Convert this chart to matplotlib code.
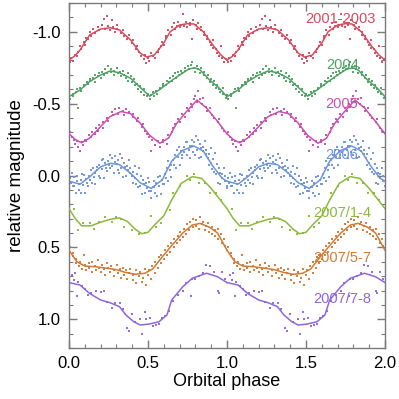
import matplotlib
matplotlib.use("Agg")
import matplotlib.pyplot as plt
from matplotlib.ticker import MultipleLocator, FormatStrFormatter
import numpy as np

plt.rcParams['font.family'] = ['Liberation Sans', 'DejaVu Sans']

labels = ["2001-2003", "2004", "2005", "2006", "2007/1-4", "2007/5-7", "2007/7-8"]
colors = ["#d64a5e", "#4fa163", "#c84fb0", "#6e95db", "#8cb83c", "#d27a34", "#8f66e0"]

# model curves (phase 0-1, repeated for 1-2)
red_curve_ph = [0, 0.035, 0.07, 0.13, 0.2, 0.26, 0.32, 0.39, 0.45, 0.49, 0.54, 0.6, 0.64, 0.7, 0.75, 0.79, 0.85, 0.91, 0.96, 1.0]
red_curve = [-0.803, -0.83, -0.873, -0.977, -1.019, -1.028, -1.012, -0.943, -0.852, -0.824, -0.838, -0.922, -1.0, -1.047, -1.056, -1.054, -1.0, -0.908, -0.84, -0.803]
grn_curve_ph = [0, 0.07, 0.13, 0.2, 0.26, 0.32, 0.39, 0.45, 0.51, 0.57, 0.64, 0.7, 0.76, 0.8, 0.83, 0.89, 0.95, 1.0]
grn_curve = [-0.548, -0.595, -0.653, -0.699, -0.727, -0.715, -0.676, -0.614, -0.552, -0.595, -0.653, -0.699, -0.742, -0.748, -0.734, -0.664, -0.609, -0.548]
mag_curve_ph = [0, 0.04, 0.08, 0.13, 0.2, 0.26, 0.33, 0.39, 0.45, 0.51, 0.575, 0.63, 0.68, 0.74, 0.81, 0.87, 0.93, 1.0]
mag_curve = [-0.29, -0.25, -0.228, -0.26, -0.34, -0.41, -0.445, -0.43, -0.365, -0.28, -0.224, -0.26, -0.36, -0.44, -0.525, -0.47, -0.39, -0.29]
blu_curve_ph = [0, 0.07, 0.13, 0.2, 0.26, 0.32, 0.39, 0.45, 0.52, 0.59, 0.65, 0.72, 0.79, 0.85, 0.91, 0.97, 1.0]
blu_curve = [0.04, 0.06, 0.01, -0.06, -0.085, -0.075, -0.015, 0.05, 0.09, 0.03, -0.1, -0.175, -0.205, -0.17, -0.065, 0.02, 0.04]
yg_curve_ph = [0, 0.04, 0.08, 0.14, 0.2, 0.26, 0.32, 0.37, 0.42, 0.46, 0.5, 0.545, 0.6, 0.65, 0.71, 0.78, 0.84, 0.9, 0.95, 1.0]
yg_curve = [0.23, 0.30, 0.35, 0.35, 0.325, 0.305, 0.295, 0.32, 0.375, 0.405, 0.395, 0.34, 0.28, 0.17, 0.055, 0.008, 0.02, 0.09, 0.16, 0.23]
org_curve_ph = [0, 0.05, 0.1, 0.17, 0.24, 0.3, 0.36, 0.42, 0.48, 0.53, 0.58, 0.64, 0.72, 0.78, 0.83, 0.89, 0.94, 0.97, 1.0]
org_curve = [0.52, 0.6, 0.63, 0.635, 0.645, 0.655, 0.675, 0.687, 0.68, 0.65, 0.58, 0.5, 0.40, 0.345, 0.333, 0.36, 0.40, 0.46, 0.52]
pur_curve_ph = [0, 0.07, 0.13, 0.2, 0.26, 0.32, 0.36, 0.41, 0.45, 0.51, 0.57, 0.62, 0.65, 0.72, 0.78, 0.87, 0.94, 1.0]
pur_curve = [0.745, 0.762, 0.82, 0.866, 0.885, 0.913, 0.97, 1.017, 1.04, 1.033, 1.017, 0.97, 0.866, 0.774, 0.715, 0.68, 0.704, 0.745]

# observed points (phase 0-1, repeated for 1-2)
red_ph = [0.004, 0.013, 0.026, 0.037, 0.049, 0.056, 0.072, 0.079, 0.093, 0.101,
          0.108, 0.123, 0.131, 0.138, 0.151, 0.163, 0.182, 0.188, 0.207, 0.219,
          0.227, 0.242, 0.247, 0.258, 0.272, 0.279, 0.293, 0.304, 0.306, 0.327,
          0.344, 0.349, 0.368, 0.382, 0.396, 0.407, 0.423, 0.428, 0.441, 0.456,
          0.472, 0.478, 0.487, 0.503, 0.509, 0.516, 0.534, 0.547, 0.563, 0.568,
          0.584, 0.588, 0.603, 0.614, 0.617, 0.628, 0.643, 0.649, 0.664, 0.668,
          0.683, 0.687, 0.702, 0.707, 0.724, 0.729, 0.743, 0.748, 0.763, 0.768,
          0.777, 0.786, 0.804, 0.811, 0.817, 0.834, 0.838, 0.852, 0.857, 0.873,
          0.876, 0.893, 0.897, 0.912, 0.914, 0.933, 0.938, 0.947, 0.963, 0.971,
          0.982, 0.991]
red_mag = [-0.79, -0.82, -0.80, -0.84, -0.83, -0.86, -0.90, -0.88, -0.93, -0.91,
           -0.96, -0.95, -1.00, -0.97, -1.02, -0.99, -1.03, -1.01, -1.05, -1.09,
           -1.02, -1.11, -1.04, -1.01, -1.08, -1.03, -1.00, -1.05, -1.02, -0.99,
           -1.01, -0.97, -0.95, -0.98, -0.92, -0.94, -0.88, -0.90, -0.86, -0.83,
           -0.81, -0.84, -0.78, -0.82, -0.80, -0.85, -0.83, -0.82, -0.86, -0.88,
           -0.90, -0.93, -0.91, -0.96, -0.97, -1.01, -0.98, -1.03, -1.06, -1.02,
           -1.04, -1.07, -1.03, -1.05, -1.12, -1.04, -1.07, -1.03, -1.06, -1.05,
           -0.95, -1.08, -1.05, -1.02, -1.06, -1.01, -1.03, -0.98, -1.00, -0.95,
           -0.97, -0.93, -0.91, -0.94, -0.89, -0.88, -0.85, -0.83, -0.90, -0.82,
           -0.79, -0.81]

grn_ph = [0.003, 0.008, 0.024, 0.027, 0.043, 0.052, 0.058, 0.072, 0.077, 0.094,
          0.097, 0.113, 0.118, 0.133, 0.136, 0.152, 0.163, 0.166, 0.183, 0.187,
          0.204, 0.206, 0.222, 0.228, 0.243, 0.247, 0.263, 0.266, 0.284, 0.286,
          0.302, 0.309, 0.322, 0.327, 0.343, 0.348, 0.358, 0.374, 0.376, 0.393,
          0.398, 0.413, 0.416, 0.433, 0.437, 0.452, 0.457, 0.473, 0.474, 0.492,
          0.497, 0.513, 0.516, 0.532, 0.538, 0.553, 0.556, 0.573, 0.577, 0.592,
          0.597, 0.611, 0.618, 0.632, 0.637, 0.652, 0.658, 0.673, 0.676, 0.691,
          0.698, 0.712, 0.716, 0.733, 0.736, 0.752, 0.757, 0.772, 0.778, 0.791,
          0.797, 0.812, 0.818, 0.831, 0.836, 0.853, 0.856, 0.871, 0.877, 0.892,
          0.896, 0.912, 0.916, 0.932, 0.937, 0.951, 0.956, 0.972, 0.976, 0.993]
grn_mag = [-0.56, -0.53, -0.57, -0.55, -0.58, -0.60, -0.47, -0.61, -0.59, -0.63,
           -0.62, -0.65, -0.64, -0.67, -0.66, -0.68, -0.65, -0.70, -0.69, -0.71,
           -0.68, -0.72, -0.70, -0.74, -0.71, -0.76, -0.72, -0.74, -0.70, -0.73,
           -0.75, -0.71, -0.72, -0.69, -0.73, -0.70, -0.68, -0.71, -0.66, -0.69,
           -0.65, -0.67, -0.63, -0.64, -0.60, -0.62, -0.58, -0.60, -0.56, -0.55,
           -0.57, -0.53, -0.56, -0.58, -0.55, -0.59, -0.57, -0.61, -0.60, -0.62,
           -0.64, -0.63, -0.66, -0.65, -0.68, -0.66, -0.69, -0.71, -0.68, -0.72,
           -0.70, -0.73, -0.71, -0.75, -0.73, -0.76, -0.74, -0.77, -0.79, -0.75,
           -0.72, -0.76, -0.74, -0.71, -0.75, -0.70, -0.72, -0.68, -0.70, -0.65,
           -0.67, -0.63, -0.66, -0.61, -0.63, -0.60, -0.58, -0.61, -0.57, -0.54]

mag_ph = [0.008, 0.017, 0.033, 0.038, 0.052, 0.057, 0.071, 0.083, 0.088, 0.103,
          0.107, 0.124, 0.137, 0.146, 0.162, 0.168, 0.183, 0.187, 0.214, 0.218,
          0.243, 0.247, 0.272, 0.276, 0.294, 0.307, 0.318, 0.343, 0.347, 0.363,
          0.378, 0.402, 0.408, 0.432, 0.438, 0.463, 0.467, 0.484, 0.493, 0.508,
          0.522, 0.528, 0.546, 0.563, 0.577, 0.593, 0.597, 0.623, 0.627, 0.653,
          0.657, 0.673, 0.688, 0.704, 0.718, 0.733, 0.748, 0.757, 0.773, 0.778,
          0.793, 0.797, 0.812, 0.818, 0.828, 0.843, 0.847, 0.864, 0.876, 0.893,
          0.903, 0.917, 0.942, 0.948, 0.966, 0.983]
mag_mag = [-0.30, -0.27, -0.25, -0.22, -0.24, -0.20, -0.17, -0.23, -0.21, -0.25,
           -0.24, -0.28, -0.27, -0.30, -0.29, -0.33, -0.31, -0.35, -0.37, -0.33,
           -0.40, -0.38, -0.44, -0.42, -0.46, -0.43, -0.47, -0.45, -0.42, -0.46,
           -0.44, -0.41, -0.43, -0.38, -0.40, -0.34, -0.36, -0.31, -0.29, -0.27,
           -0.17, -0.25, -0.21, -0.24, -0.20, -0.23, -0.25, -0.22, -0.28, -0.30,
           -0.33, -0.36, -0.39, -0.37, -0.43, -0.41, -0.47, -0.45, -0.50, -0.48,
           -0.53, -0.55, -0.51, -0.59, -0.53, -0.50, -0.54, -0.48, -0.45, -0.47,
           -0.42, -0.40, -0.37, -0.39, -0.33, -0.31]

blu_ph = [0.002, 0.005, 0.013, 0.021, 0.026, 0.031, 0.034, 0.044, 0.049, 0.052, 0.061, 0.064, 0.074, 0.079, 0.083,
          0.091, 0.098, 0.101, 0.106, 0.117, 0.121, 0.124, 0.133, 0.139, 0.147, 0.149, 0.157, 0.164, 0.166, 0.176,
          0.178, 0.187, 0.191, 0.199, 0.206, 0.209, 0.215, 0.224, 0.227, 0.236, 0.241, 0.244, 0.253, 0.259, 0.262,
          0.271, 0.274, 0.283, 0.289, 0.293, 0.301, 0.307, 0.311, 0.319, 0.323, 0.332, 0.334, 0.343, 0.349, 0.356,
          0.358, 0.367, 0.371, 0.379, 0.386, 0.388, 0.397, 0.404, 0.406, 0.416, 0.419, 0.427, 0.433, 0.437, 0.446,
          0.448, 0.457, 0.463, 0.466, 0.476, 0.478, 0.487, 0.491, 0.499, 0.506, 0.509, 0.517, 0.521, 0.529, 0.536,
          0.539, 0.547, 0.551, 0.559, 0.566, 0.568, 0.577, 0.583, 0.587, 0.596, 0.599, 0.607, 0.611, 0.619, 0.626,
          0.628, 0.637, 0.643, 0.647, 0.656, 0.658, 0.667, 0.671, 0.679, 0.686, 0.689, 0.697, 0.703, 0.707, 0.716,
          0.718, 0.727, 0.731, 0.739, 0.746, 0.748, 0.757, 0.763, 0.767, 0.776, 0.778, 0.787, 0.791, 0.799, 0.806,
          0.808, 0.817, 0.823, 0.827, 0.836, 0.838, 0.847, 0.851, 0.859, 0.866, 0.868, 0.877, 0.883, 0.887, 0.896,
          0.898, 0.907, 0.911, 0.919, 0.926, 0.928, 0.937, 0.943, 0.947, 0.956, 0.958, 0.967, 0.971, 0.979, 0.986,
          0.989, 0.997]
blu_mag = [0.09, 0.02, 0.05, -0.02, 0.07, 0.01, 0.07, 0.12, 0.04, 0.00, 0.06, 0.10, 0.03, 0.12, -0.01,
           0.065, -0.005, 0.125, 0.025, 0.055, 0.07, 0.00, 0.03, -0.04, 0.05, -0.05, 0.01, 0.06, -0.02, -0.06,
           -0.04, 0.00, -0.07, 0.02, -0.11, -0.045, -0.115, 0.015, -0.085, -0.055, -0.03, -0.10, -0.07, -0.14, -0.05,
           -0.125, -0.065, -0.015, -0.095, -0.135, -0.08, -0.04, -0.11, -0.02, -0.15, -0.05, -0.12, 0.01, -0.09, -0.06,
           0.005, -0.065, -0.035, -0.105, -0.015, -0.055, 0.005, 0.055, -0.025, -0.065, 0.02, 0.06, -0.01, 0.08, -0.05,
           0.07, 0.00, 0.13, 0.03, 0.06, 0.125, 0.055, 0.085, 0.015, 0.105, 0.048, 0.108, 0.158, 0.078, 0.038,
           0.08, 0.12, 0.05, 0.14, 0.01, 0.07, 0.00, 0.13, 0.03, 0.06, 0.06, -0.01, 0.02, -0.05, 0.04,
           -0.10, -0.04, 0.01, -0.07, -0.11, -0.11, -0.07, -0.14, -0.05, -0.18, -0.13, -0.20, -0.07, -0.17, -0.14,
           -0.125, -0.195, -0.165, -0.235, -0.145, -0.235, -0.175, -0.125, -0.205, -0.245, -0.205, -0.165, -0.235, -0.145, -0.275,
           -0.18, -0.25, -0.12, -0.22, -0.19, -0.13, -0.20, -0.17, -0.24, -0.15, -0.18, -0.12, -0.07, -0.15, -0.19,
           -0.085, -0.045, -0.115, -0.025, -0.155, -0.01, -0.08, 0.05, -0.05, -0.02, 0.06, -0.01, 0.02, -0.05, 0.04,
           0.00, 0.07]

yg_ph = [0.03, 0.06, 0.09, 0.13, 0.16, 0.19, 0.23, 0.27, 0.30, 0.33, 0.35, 0.40, 0.44, 0.48, 0.52, 0.55, 0.58, 0.64, 0.66, 0.70, 0.745, 0.766, 0.79, 0.82, 0.86, 0.89, 0.93, 0.96]
yg_mag = [0.23, 0.38, 0.33, 0.33, 0.37, 0.32, 0.29, 0.32, 0.29, 0.30, 0.36, 0.38, 0.41, 0.40, 0.28, 0.36, 0.33, 0.24, 0.12, 0.07, 0.00, 0.03, -0.01, 0.05, 0.05, 0.12, 0.12, 0.17]

org_ph = [0.006, 0.024, 0.027, 0.043, 0.047, 0.063, 0.068, 0.083, 0.092, 0.104,
          0.108, 0.124, 0.127, 0.143, 0.146, 0.162, 0.168, 0.183, 0.187, 0.203,
          0.206, 0.222, 0.227, 0.243, 0.248, 0.262, 0.266, 0.282, 0.287, 0.301,
          0.307, 0.322, 0.326, 0.343, 0.345, 0.362, 0.368, 0.382, 0.386, 0.402,
          0.404, 0.423, 0.426, 0.441, 0.447, 0.463, 0.466, 0.482, 0.486, 0.502,
          0.507, 0.521, 0.526, 0.542, 0.546, 0.561, 0.567, 0.582, 0.584, 0.601,
          0.607, 0.622, 0.624, 0.641, 0.646, 0.662, 0.665, 0.681, 0.688, 0.702,
          0.704, 0.721, 0.727, 0.742, 0.744, 0.761, 0.766, 0.782, 0.785, 0.801,
          0.806, 0.821, 0.826, 0.841, 0.847, 0.861, 0.864, 0.881, 0.887, 0.902,
          0.905, 0.922, 0.926, 0.941, 0.945, 0.962, 0.966, 0.981, 0.988]
org_mag = [0.50, 0.56, 0.54, 0.61, 0.58, 0.63, 0.60, 0.65, 0.55, 0.62,
           0.66, 0.61, 0.64, 0.67, 0.60, 0.63, 0.66, 0.59, 0.64, 0.67,
           0.62, 0.65, 0.69, 0.61, 0.64, 0.67, 0.63, 0.70, 0.66, 0.62,
           0.68, 0.65, 0.71, 0.64, 0.69, 0.66, 0.72, 0.68, 0.65, 0.73,
           0.69, 0.66, 0.75, 0.70, 0.67, 0.74, 0.71, 0.65, 0.76, 0.69,
           0.66, 0.72, 0.63, 0.68, 0.60, 0.64, 0.57, 0.61, 0.55, 0.58,
           0.52, 0.55, 0.49, 0.53, 0.47, 0.50, 0.44, 0.47, 0.42, 0.45,
           0.39, 0.43, 0.37, 0.41, 0.34, 0.38, 0.32, 0.36, 0.30, 0.35,
           0.31, 0.37, 0.29, 0.34, 0.32, 0.38, 0.35, 0.33, 0.39, 0.36,
           0.41, 0.38, 0.42, 0.37, 0.44, 0.41, 0.47, 0.44, 0.49]

pur_ph = [0.02, 0.03, 0.04, 0.05, 0.06, 0.08, 0.10, 0.12, 0.14, 0.17, 0.20, 0.22, 0.24, 0.27, 0.29, 0.32, 0.34, 0.37, 0.38, 0.40, 0.42, 0.45, 0.46, 0.48, 0.49, 0.51, 0.53, 0.55, 0.57, 0.59, 0.61, 0.63, 0.66, 0.69, 0.72, 0.74, 0.77, 0.78, 0.80, 0.82, 0.85, 0.87, 0.89, 0.92, 0.94, 0.95, 0.97, 0.99]
pur_mag = [0.69, 0.73, 0.68, 0.84, 0.74, 0.77, 0.79, 0.83, 0.82, 0.80, 0.81, 0.80, 0.88, 0.92, 0.89, 0.89, 0.93, 1.06, 1.08, 0.96, 1.02, 1.00, 1.10, 0.95, 1.00, 0.99, 1.05, 1.04, 1.03, 0.99, 0.98, 0.94, 0.87, 0.83, 0.80, 0.75, 0.84, 0.72, 0.72, 0.70, 0.68, 0.62, 0.63, 0.67, 0.80, 0.82, 0.67, 0.72]

curves = [(red_curve_ph, red_curve), (grn_curve_ph, grn_curve), (mag_curve_ph, mag_curve),
          (blu_curve_ph, blu_curve), (yg_curve_ph, yg_curve), (org_curve_ph, org_curve),
          (pur_curve_ph, pur_curve)]
points = [(red_ph, red_mag), (grn_ph, grn_mag), (mag_ph, mag_mag), (blu_ph, blu_mag),
          (yg_ph, yg_mag), (org_ph, org_mag), (pur_ph, pur_mag)]

label_pos = [(1.943, -1.092), (1.835, -0.769), (1.829, -0.494), (1.829, -0.146),
             (1.911, 0.264), (1.911, 0.577), (1.911, 0.859)]

fig = plt.figure(figsize=(3.99, 3.99), dpi=100)
ax = fig.add_axes([69/399, 51/399, 316/399, 345/399])

for i, ((cph, cv), (pph, pm), col) in enumerate(zip(curves, points, colors)):
    cph = np.asarray(cph); cv = np.asarray(cv)
    pph = np.asarray(pph); pm = np.asarray(pm)
    line_z = 1 if i == 3 else 3
    for shift in (0.0, 1.0):
        ax.plot(pph + shift, pm, linestyle='none', marker='s', markersize=2.0,
                markeredgewidth=0, color=col, alpha=0.95, zorder=2)
        ax.plot(cph + shift, cv, color=col, linewidth=1.1, zorder=line_z)

for lab, (lx, ly), col in zip(labels, label_pos, colors):
    ax.text(lx, ly, lab, color=col, fontsize=10.5, ha='right', va='center', zorder=4)

ax.set_xlim(0, 2)
ax.set_ylim(1.2, -1.2)
ax.xaxis.set_major_locator(MultipleLocator(0.5))
ax.xaxis.set_minor_locator(MultipleLocator(0.1))
ax.yaxis.set_major_locator(MultipleLocator(0.5))
ax.yaxis.set_minor_locator(MultipleLocator(0.1))
ax.xaxis.set_major_formatter(FormatStrFormatter('%.1f'))
ax.yaxis.set_major_formatter(FormatStrFormatter('%.1f'))

frame_col = '#7a7a7a'
for sp in ax.spines.values():
    sp.set_color(frame_col)
    sp.set_linewidth(1.0)
ax.tick_params(which='both', direction='in', top=True, right=True, color=frame_col,
               labelsize=12, labelcolor='black')
ax.tick_params(which='major', length=6, width=1.0, pad=6)
ax.tick_params(which='minor', length=3, width=0.8)

ax.set_xlabel('Orbital phase', fontsize=13, labelpad=1)
ax.set_ylabel('relative magnitude', fontsize=13.5, labelpad=5)

fig.savefig('out.png', dpi=100)
